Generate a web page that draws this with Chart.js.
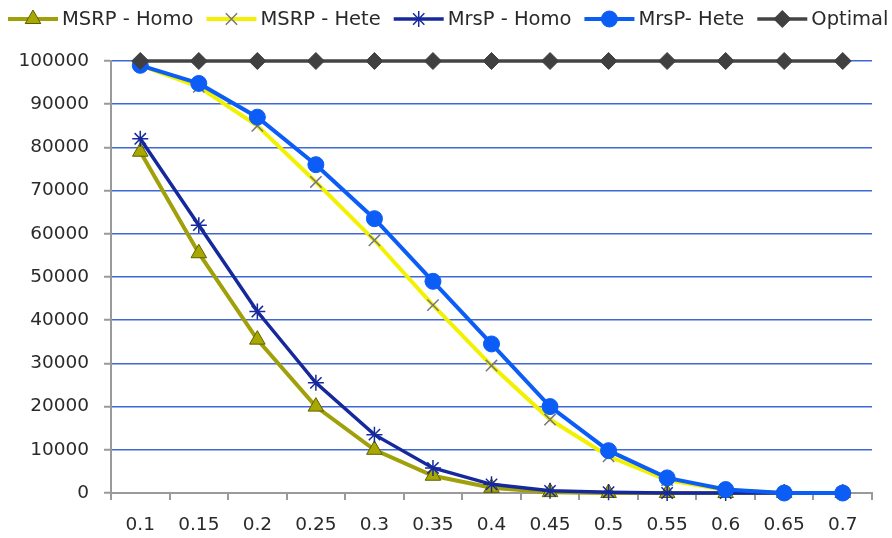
<!DOCTYPE html>
<html>
<head>
<meta charset="utf-8">
<script src="https://cdn.jsdelivr.net/npm/chart.js@4/dist/chart.umd.min.js"></script>
<style>
  html, body { margin: 0; padding: 0; background: #fff; }
  canvas { display: block; }
</style>
</head>
<body>
<canvas id="chart" width="892" height="538"></canvas>
<script>
// Threshold values on the x axis
const categories = ['0.1', '0.15', '0.2', '0.25', '0.3', '0.35', '0.4', '0.45', '0.5', '0.55', '0.6', '0.65', '0.7'];

// Series values
const msrpHomo = [79000, 55500, 35500, 20000, 10000, 4000, 1200, 200, 0, 0, 0, 0, 0];
const msrpHete = [99000, 94000, 85000, 72000, 58500, 43500, 29500, 17000, 8500, 3000, 700, 0, 0];
const mrspHomo = [82000, 62000, 42000, 25500, 13500, 5800, 2000, 500, 200, 0, 0, 0, 0];
const mrspHete = [99000, 94800, 87000, 76000, 63500, 49000, 34500, 20000, 9800, 3500, 800, 0, 0];
const optimal  = [100000, 100000, 100000, 100000, 100000, 100000, 100000, 100000, 100000, 100000, 100000, 100000, 100000];

const seriesNames = ['MSRP - Homo', 'MSRP - Hete', 'MrsP - Homo', 'MrsP- Hete', 'Optimal'];

// Y axis range and step
const yMin = 0;
const yMax = 100000;
const yStep = 10000;

const FONT = '"DejaVu Sans", sans-serif';
Chart.defaults.font.family = FONT;

// Legend drawn as line segment + marker, like a spreadsheet legend
const lineLegend = {
  id: 'lineLegend',
  afterDraw(chart) {
    const ctx = chart.ctx;
    ctx.save();
    ctx.font = '19.5px ' + FONT;
    ctx.textBaseline = 'middle';
    ctx.textAlign = 'left';
    let x = 8;
    const y = 19;
    chart.data.datasets.forEach(ds => {
      ctx.strokeStyle = ds.borderColor;
      ctx.lineWidth = ds.borderWidth;
      ctx.beginPath();
      ctx.moveTo(x, y);
      ctx.lineTo(x + 50, y);
      ctx.stroke();
      ctx.fillStyle = ds.pointBackgroundColor;
      ctx.strokeStyle = ds.pointBorderColor;
      ctx.lineWidth = ds.pointBorderWidth;
      Chart.helpers.drawPoint(ctx, {
        pointStyle: ds.pointStyle,
        radius: ds.pointRadius,
        borderWidth: ds.pointBorderWidth,
        rotation: 0
      }, x + 25, y);
      ctx.fillStyle = '#2a2a2a';
      ctx.fillText(ds.label, x + 54, y + 1);
      x += 54 + ctx.measureText(ds.label).width + 13;
    });
    ctx.restore();
  }
};

const datasets = [
  {
    label: seriesNames[0], data: msrpHomo, order: 5,
    borderColor: '#a0a00a', borderWidth: 4,
    pointStyle: 'triangle', pointRadius: 9, pointBorderWidth: 1,
    pointBackgroundColor: '#a8a800', pointBorderColor: '#5e5e00'
  },
  {
    label: seriesNames[1], data: msrpHete, order: 4,
    borderColor: '#f2f200', borderWidth: 4,
    pointStyle: 'crossRot', pointRadius: 8, pointBorderWidth: 1.5,
    pointBackgroundColor: '#777', pointBorderColor: '#777'
  },
  {
    label: seriesNames[2], data: mrspHomo, order: 3,
    borderColor: '#16299c', borderWidth: 3.5,
    pointStyle: 'star', pointRadius: 8, pointBorderWidth: 1.5,
    pointBackgroundColor: '#16299c', pointBorderColor: '#16299c'
  },
  {
    label: seriesNames[3], data: mrspHete, order: 2,
    borderColor: '#0b5df5', borderWidth: 4,
    pointStyle: 'circle', pointRadius: 8, pointBorderWidth: 1,
    pointBackgroundColor: '#0b5df5', pointBorderColor: '#0b5df5'
  },
  {
    label: seriesNames[4], data: optimal, order: 1,
    borderColor: '#444', borderWidth: 3.5,
    pointStyle: 'rectRot', pointRadius: 8.5, pointBorderWidth: 1,
    pointBackgroundColor: '#404040', pointBorderColor: '#404040'
  }
].map(d => Object.assign({ tension: 0, fill: false, clip: false, pointHoverRadius: d.pointRadius }, d));

new Chart(document.getElementById('chart'), {
  type: 'line',
  data: { labels: categories, datasets },
  options: {
    responsive: false,
    animation: false,
    devicePixelRatio: 1,
    layout: { padding: { top: 61, right: 20, left: 0, bottom: 0 } },
    plugins: { legend: { display: false }, tooltip: { enabled: false } },
    scales: {
      x: {
        offset: true,
        grid: { display: true, drawOnChartArea: false, drawTicks: true, tickLength: 7, color: '#9a9a9a', lineWidth: 2, offset: true },
        border: { color: '#9a9a9a', width: 2 },
        ticks: { color: '#2a2a2a', font: { size: 18.5 }, padding: 14, maxRotation: 0, autoSkip: false },
        afterFit(s) { s.height = 45; }
      },
      y: {
        min: yMin, max: yMax,
        ticks: { stepSize: yStep, color: '#2a2a2a', font: { size: 18.5 }, padding: 15, callback: v => String(v) },
        grid: { color: '#3f68d6', lineWidth: 1.5, tickColor: '#9a9a9a', tickLength: 7, tickWidth: 2 },
        border: { color: '#9a9a9a', width: 2 },
        afterFit(s) { s.width = 111; }
      }
    }
  },
  plugins: [lineLegend]
});
</script>
</body>
</html>
